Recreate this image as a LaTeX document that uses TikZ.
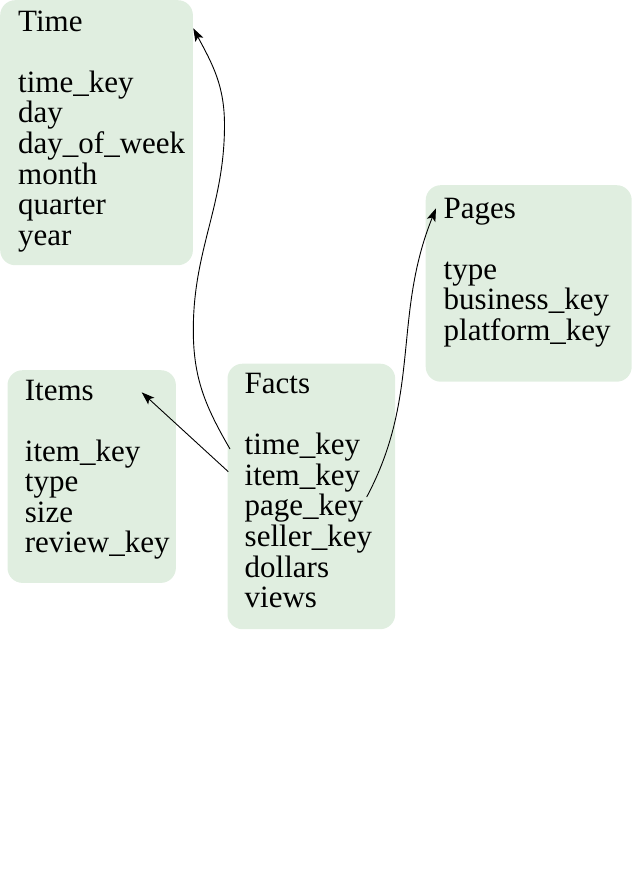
\documentclass[tikz,border=0pt]{standalone}
\usepackage{fontspec}
\setmainfont{Liberation Serif}
\usetikzlibrary{arrows.meta}
\definecolor{honey}{RGB}{224,238,224}
\begin{document}
\begin{tikzpicture}[x=1pt,y=-1pt,
  box/.style={rectangle,rounded corners=15pt,fill=honey,draw=none,inner sep=0pt,anchor=north west},
  lbl/.style={inner sep=0pt,anchor=base west,font=\fontsize{31}{30.5}\selectfont},
  conn/.style={line width=0.9pt,-{Stealth[length=13pt,width=9pt,inset=3pt]}}]
\useasboundingbox (0,0) rectangle (632,889);
% boxes
\node[box,minimum width=192.7pt,minimum height=265pt] (timeBox) at (0,0) {};
\node[box,minimum width=206pt,minimum height=196.5pt] (pagesBox) at (425.5,185) {};
\node[box,minimum width=168.4pt,minimum height=212.7pt] (itemsBox) at (7.3,370) {};
\node[box,minimum width=167.7pt,minimum height=265.5pt] (factsBox) at (227.3,363.5) {};
% texts
\node[lbl] (timeT) at (18,31) {\begin{tabular}[t]{@{}l@{}}Time\\ \\time\_key\\day\\day\_of\_week\\month\\quarter\\year\end{tabular}};
\node[lbl] (pagesT) at (443.5,218.3) {\begin{tabular}[t]{@{}l@{}}Pages\\ \\type\\business\_key\\platform\_key\end{tabular}};
\node[lbl] (itemsT) at (24.7,400) {\begin{tabular}[t]{@{}l@{}}Items\\ \\item\_key\\type\\size\\review\_key\end{tabular}};
\node[lbl] (factsT) at (244.5,393.3) {\begin{tabular}[t]{@{}l@{}}Facts\\ \\time\_key\\item\_key\\page\_key\\seller\_key\\dollars\\views\end{tabular}};
% connector ends
\coordinate (fTime) at (230,449);
\coordinate (tTime) at (193.3,28.3);
\coordinate (fItem) at (228.3,471.7);
\coordinate (tItem) at (141.7,392.3);
\coordinate (fPage) at (366.7,497);
\coordinate (tPage) at (436,208.3);
% connectors
\draw[conn] (fTime) .. controls (205.6,406.8) and (193.3,378.7) .. (193.3,330)
  .. controls (193.3,249) and (224.5,206) .. (224.5,125)
  .. controls (224.5,85) and (212.1,63.6) .. (tTime);
\draw[conn] (fItem) -- (tItem);
\draw[conn] (fPage) .. controls (421.2,394.6) and (392.5,315.9) .. (tPage);
\end{tikzpicture}
\end{document}
